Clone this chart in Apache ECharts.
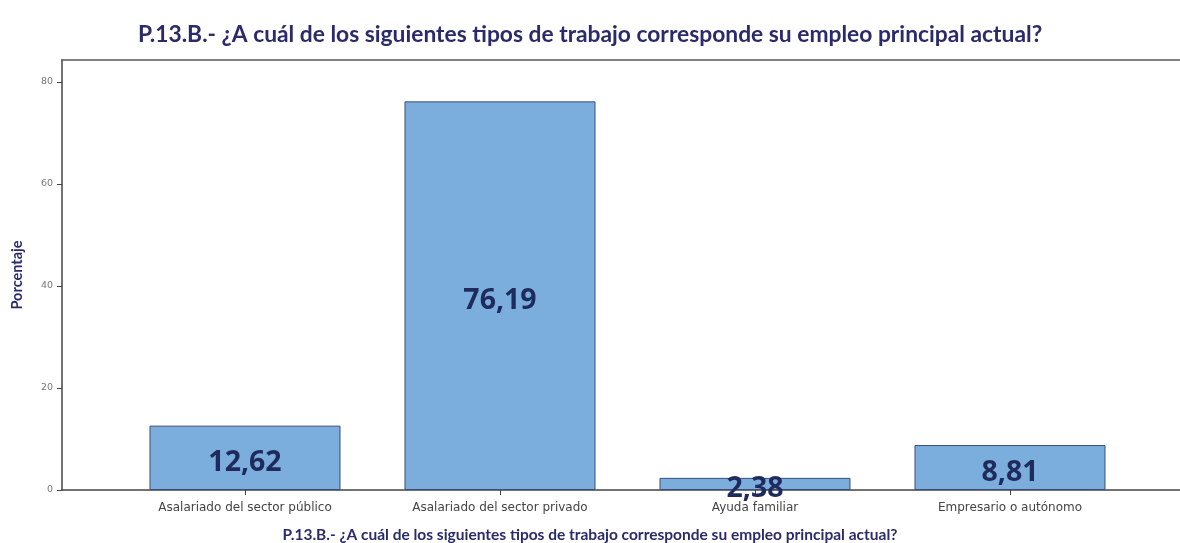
<!DOCTYPE html>
<html>
<head>
<meta charset="utf-8">
<script src="https://cdn.jsdelivr.net/npm/echarts@6/dist/echarts.min.js"></script>
<style>html,body{margin:0;padding:0;background:#fff}#c{width:1180px;height:543px}</style>
</head>
<body>
<div id="c"></div>
<script>
const chartTitle = "P.13.B.- ¿A cuál de los siguientes tipos de trabajo corresponde su empleo principal actual?";
const categories = ["Asalariado del sector público", "Asalariado del sector privado", "Ayuda familiar", "Empresario o autónomo"];
const values = [12.62, 76.19, 2.38, 8.81];
const valueLabels = ["12,62", "76,19", "2,38", "8,81"];
const yTicks = [0, 20, 40, 60, 80];
const yAxisName = "Porcentaje";

const chart = echarts.init(document.getElementById('c'), null, {renderer: 'canvas'});
const catIdx = categories.map((c, i) => i);
const xMin = -0.7176, xMax = 3.6667;
chart.setOption({
  backgroundColor: '#ffffff',
  animation: false,
  title: [
    {text: chartTitle, left: 'center', top: 18,
     textStyle: {fontFamily: 'Lato', fontWeight: 'bold', fontSize: 22.8, color: '#2B2A6B'}},
    {text: chartTitle, left: 'center', top: 522,
     textStyle: {fontFamily: 'Lato', fontWeight: 'bold', fontSize: 15.5, color: '#2B2A6B'}}
  ],
  grid: {left: 62, right: 0, top: 60, bottom: 53, show: false},
  xAxis: [{
    type: 'value', min: xMin, max: xMax, position: 'bottom',
    splitLine: {show: false},
    axisLine: {show: true, onZero: false, lineStyle: {color: '#444', width: 1.5}},
    axisTick: {show: true, customValues: catIdx, length: 5, lineStyle: {color: '#444'}},
    axisLabel: {show: true, customValues: catIdx, margin: 12,
      formatter: v => categories[Math.round(v)] || '',
      fontFamily: 'DejaVu Sans', fontSize: 12, color: '#444'}
  }, {
    type: 'value', min: xMin, max: xMax, position: 'top',
    splitLine: {show: false},
    axisLine: {show: true, onZero: false, lineStyle: {color: '#555', width: 1.5}},
    axisTick: {show: false}, axisLabel: {show: false}
  }],
  yAxis: {
    type: 'value', min: 0, max: 84.3,
    axisLine: {show: true, onZero: false, lineStyle: {color: '#444', width: 1.5}},
    axisTick: {show: true, customValues: yTicks, length: 5, lineStyle: {color: '#444'}},
    axisLabel: {customValues: yTicks, fontFamily: 'DejaVu Sans', fontSize: 9.5, color: '#777', margin: 9},
    splitLine: {show: false},
    name: yAxisName, nameLocation: 'middle', nameRotate: 90, nameGap: 37,
    nameTextStyle: {fontFamily: 'Lato', fontWeight: 'bold', fontSize: 14.5, color: '#2B2A6B'}
  },
  series: [{
    type: 'bar',
    xAxisIndex: 0,
    data: values.map((v, i) => [i, v]),
    barWidth: 191,
    itemStyle: {color: '#7BAEDD', borderColor: '#3B4D7A', borderWidth: 1},
    label: {show: true, position: 'inside', offset: [0, 5],
      formatter: p => valueLabels[p.dataIndex],
      fontFamily: 'Open Sans', fontWeight: 'bold', fontSize: 28.5, color: '#1F2B5C'}
  }]
});
</script>
</body>
</html>
